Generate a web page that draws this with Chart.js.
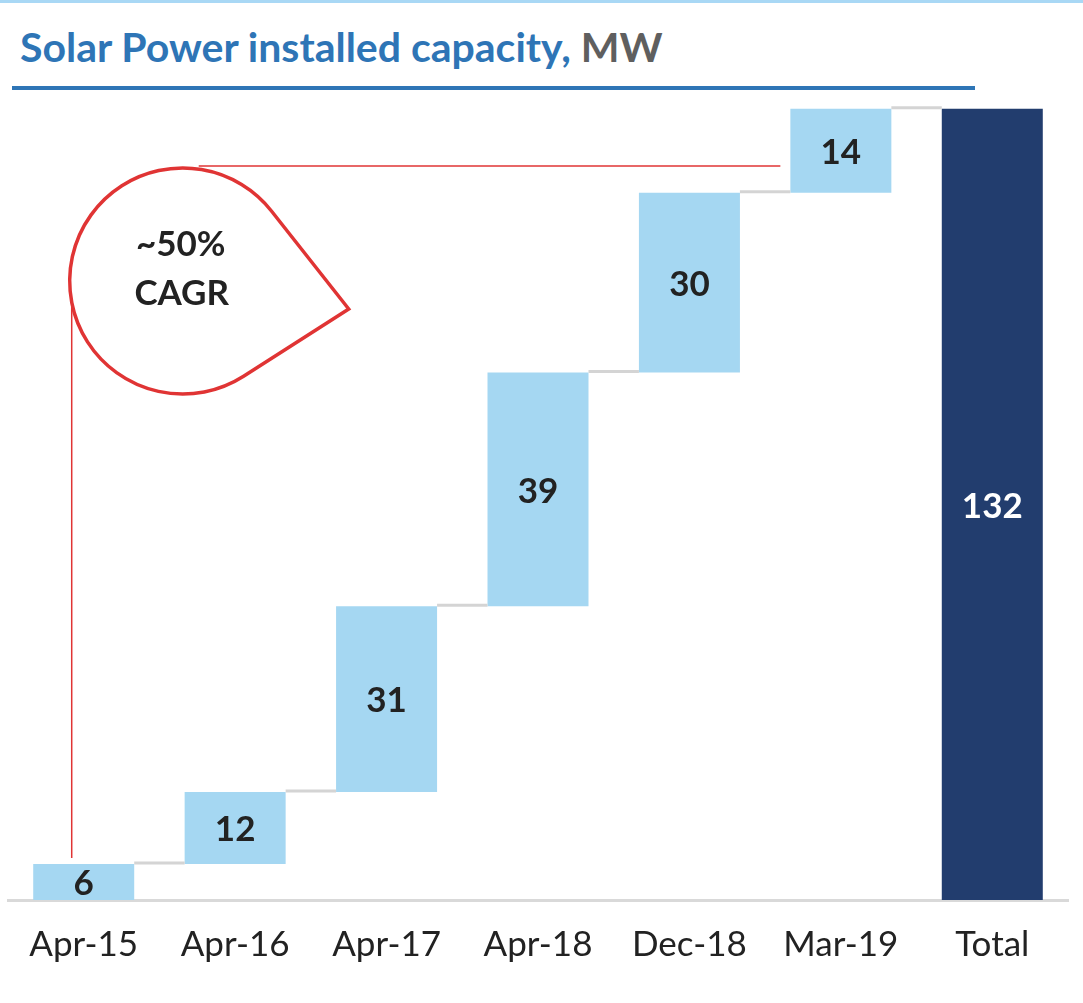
<!DOCTYPE html>
<html>
<head>
<meta charset="utf-8">
<script src="https://cdn.jsdelivr.net/npm/chart.js@4"></script>
<style>
  html, body { margin: 0; padding: 0; background: #fff; }
  body { width: 1083px; height: 1003px; position: relative; overflow: hidden; font-family: Lato, "Open Sans", sans-serif; }
  #topline { position: absolute; left: 0; top: 0; width: 1083px; height: 3px; background: #a9d8f5; }
  #title { position: absolute; left: 20px; top: 22px; font-size: 41px; line-height: 50px; font-weight: 700; color: #2e75b6; white-space: nowrap; }
  #title .unit { color: #5f5f5f; }
  #underline { position: absolute; left: 12px; top: 86px; width: 963px; height: 4px; background: #2e75b6; }
  #wrap { position: absolute; left: 0; top: 95px; width: 1083px; height: 908px; }
</style>
</head>
<body>
<div id="topline"></div>
<div id="title">Solar Power installed capacity, <span class="unit">MW</span></div>
<div id="underline"></div>
<div id="wrap"><canvas id="c"></canvas></div>
<script>
const categories = ["Apr-15", "Apr-16", "Apr-17", "Apr-18", "Dec-18", "Mar-19", "Total"];
const increments = [6, 12, 31, 39, 30, 14];
const totalValue = 132;
const cagrText = ["~50%", "CAGR"];

// build floating ranges from the increments
const ranges = [];
let run = 0;
for (const v of increments) { ranges.push([run, run + v]); run += v; }
ranges.push([0, totalValue]);
const labelsVals = [...increments, totalValue];

const barColors = categories.map((c, i) => i === categories.length - 1 ? "#223d6e" : "#a5d7f2");
const FONT = "Lato, 'Open Sans', sans-serif";

const overlay = {
  id: "overlay",
  afterDatasetsDraw(chart) {
    const ctx = chart.ctx;
    const meta = chart.getDatasetMeta(0);
    const y = chart.scales.y;
    const bars = meta.data;
    ctx.save();
    // connectors
    ctx.strokeStyle = "#d4d4d4";
    ctx.lineWidth = 3;
    for (let i = 0; i < bars.length - 1; i++) {
      const b = bars[i], n = bars[i + 1];
      const yy = y.getPixelForValue(ranges[i][1]);
      ctx.beginPath();
      ctx.moveTo(b.x + b.width / 2, yy - 1);
      ctx.lineTo(n.x - n.width / 2, yy - 1);
      ctx.stroke();
    }
    // value labels
    ctx.textAlign = "center";
    ctx.textBaseline = "middle";
    ctx.font = "bold 35px " + FONT;
    bars.forEach((b, i) => {
      const r = ranges[i];
      const yc = (y.getPixelForValue(r[0]) + y.getPixelForValue(r[1])) / 2;
      ctx.fillStyle = i === bars.length - 1 ? "#ffffff" : "#222222";
      ctx.fillText(String(labelsVals[i]), b.x, yc + 2);
    });
    // CAGR annotation
    const first = bars[0];
    const mar = bars[bars.length - 2];
    const area = chart.chartArea;
    const cx = first.x + 99, cy = area.top + 186, r = 113;
    const px = cx + 166, py = cy + 28;
    ctx.strokeStyle = "#e03434";
    ctx.lineWidth = 1.5;
    ctx.beginPath();
    ctx.moveTo(cx + 16, cy - r - 2);
    ctx.lineTo(mar.x - mar.width / 2 - 10, cy - r - 2);
    ctx.stroke();
    ctx.beginPath();
    const vx = first.x - 12;
    ctx.moveTo(vx, cy + 1);
    ctx.lineTo(vx, y.getPixelForValue(ranges[0][1]) - 6);
    ctx.stroke();
    // teardrop
    const d = Math.hypot(px - cx, py - cy);
    const th = Math.atan2(py - cy, px - cx);
    const al = Math.acos(r / d);
    ctx.lineWidth = 3.5;
    ctx.fillStyle = "#ffffff";
    ctx.beginPath();
    ctx.arc(cx, cy, r, th + al, th - al + Math.PI * 2, false);
    ctx.lineTo(px, py);
    ctx.closePath();
    ctx.fill();
    ctx.stroke();
    ctx.fillStyle = "#222222";
    ctx.font = "bold 35px " + FONT;
    ctx.fillText(cagrText[0], cx - 2, cy - 36);
    ctx.fillText(cagrText[1], cx - 1, cy + 13);
    ctx.restore();
  }
};

new Chart(document.getElementById("c"), {
  type: "bar",
  data: {
    labels: categories,
    datasets: [{
      data: ranges,
      backgroundColor: barColors,
      borderWidth: 0,
      barPercentage: 0.667,
      categoryPercentage: 1.0
    }]
  },
  options: {
    responsive: true,
    maintainAspectRatio: false,
    animation: false,
    events: [],
    layout: { padding: { left: 8, right: 15, top: 0, bottom: 13 } },
    plugins: { legend: { display: false }, tooltip: { enabled: false } },
    scales: {
      x: {
        grid: { display: false, drawTicks: false },
        border: { display: true, color: "#d9d9d9", width: 3 },
        ticks: { color: "#222222", font: { family: FONT, size: 35 }, padding: 24, maxRotation: 0, autoSkip: false }
      },
      y: { display: false, min: 0, max: 134.3 }
    }
  },
  plugins: [overlay]
});
</script>
</body>
</html>
